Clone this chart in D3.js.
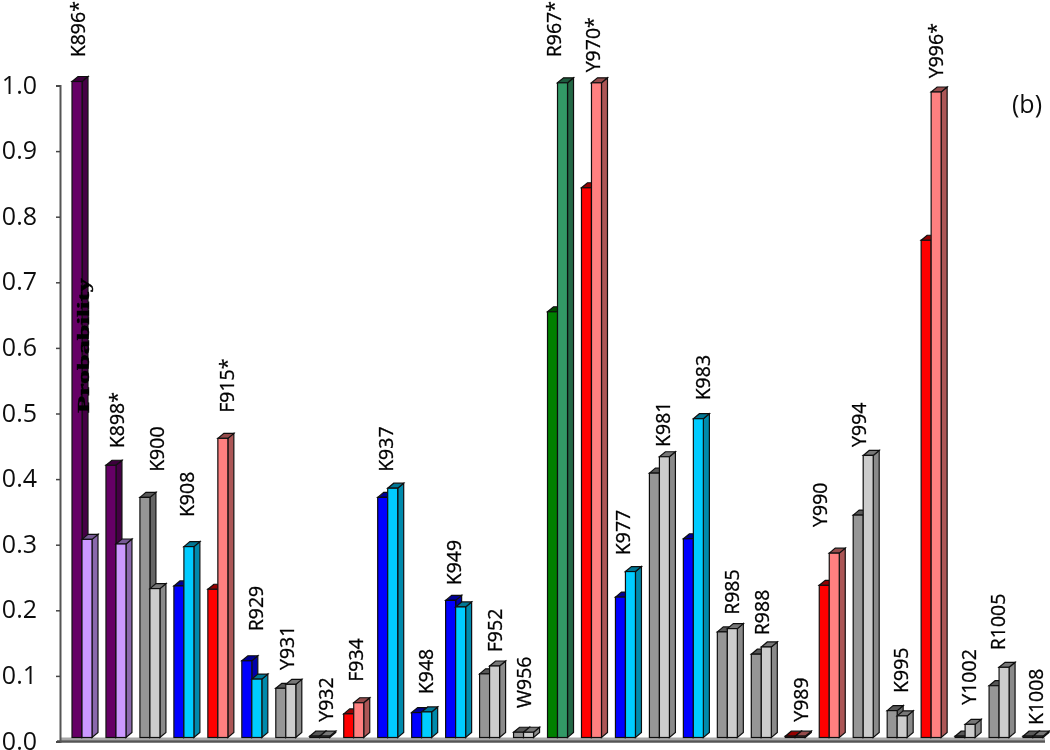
<!DOCTYPE html>
<html>
<head>
<meta charset="utf-8">
<title>Probability</title>
<script src="https://d3js.org/d3.v7.min.js"></script>
<style>
  html, body { margin: 0; padding: 0; background: #fff; }
  svg { display: block; }
  .tick-label { font: 25px "Open Sans", sans-serif; fill: #111; }
  .site-label { font: 19.5px "Open Sans", sans-serif; fill: #000; stroke: #000; stroke-width: 0.3px; }
</style>
</head>
<body>
<div id="chart"></div>
<script>
var sites = ["K896*","K898*","K900","K908","F915*","R929","Y931","Y932","F934","K937",
             "K948","K949","F952","W956","R967*","Y970*","K977","K981","K983","R985",
             "R988","Y989","Y990","Y994","K995","Y996*","Y1002","R1005","K1008"];
var frontValues = [1.0,.415,.366,.231,.226,.117,.075,.002,.036,.366,
                   .038,.209,.097,.008,.649,.838,.214,.403,.303,.161,
                   .127,.002,.232,.339,.041,.758,.002,.079,.002];
var backValues = [.302,.295,.227,.291,.456,.089,.081,.002,.053,.38,
                  .039,.199,.109,.008,.998,.998,.253,.428,.486,.166,
                  .138,.002,.281,.43,.033,.984,.02,.107,.002];
var groups = ["purple","purple","gray","blue","red","blue","gray","gray","red","blue",
              "blue","blue","gray","gray","green","red","blue","gray","blue","gray",
              "gray","red","red","gray","gray","red","gray","gray","gray"];
// where the foot of each label sits, on the value axis
var labelBase = [1.037,.441,.405,.336,.495,.162,.103,.024,.085,.405,
                 .066,.232,.13,.045,1.037,1.014,.278,.443,.514,.187,
                 .156,.024,.321,.443,.068,1.005,.05,.133,.019];
// labels wander sideways in the original, px from the left of the group
var labelNudge = [5.5,11,17,13,19,14,11,16,12,8,14,8,15,10,6,12,8,14,20,15,11,16,1,6,14,15,14,9,13];
var yTicks = [0,.1,.2,.3,.4,.5,.6,.7,.8,.9,1];

var colors = {
  purple: ["#660066","#cc99ff"],
  gray: ["#969696","#cccccc"],
  blue: ["#0000ff","#00ccff"],
  red: ["#ff0000","#ff8080"],
  green: ["#008000","#339966"]
};

var width = 1050, height = 750;
var barW = 10, depthX = 6, depthY = 5;

var svg = d3.select("#chart").append("svg")
  .attr("width", width).attr("height", height);

// the reference is a resampled bitmap, a small blur gets the same soft edges
svg.append("defs").append("filter").attr("id","soft")
  .append("feGaussianBlur").attr("stdDeviation",0.5);
var root = svg.append("g").attr("filter","url(#soft)");

// axis scale, the bars stand a bit up from it because of the 3d floor
var yScale = d3.scaleLinear().domain([0,1]).range([741.5,85.5]);
var barScale = d3.scaleLinear().domain([0,1]).range([737.5,81.5]);
var xScale = d3.scaleBand().domain(sites).range([72,1057]).paddingInner(0).paddingOuter(0).align(0);

// floor
root.append("rect").attr("x",60).attr("y",737.5).attr("width",985).attr("height",3)
  .attr("fill","#a8a8a8");
root.append("line").attr("x1",57).attr("x2",1045).attr("y1",741.5).attr("y2",741.5)
  .attr("stroke","#555").attr("stroke-width",2.4);

// y axis
var yAxis = d3.axisLeft(yScale).tickValues(yTicks).tickSize(4).tickFormat(d3.format(".1f"));
var yAxisGroup = root.append("g").attr("transform","translate(60,0)").call(yAxis);
yAxisGroup.select(".domain").attr("stroke","#555").attr("stroke-width",2);
yAxisGroup.selectAll(".tick line").attr("stroke","#444").attr("stroke-width",1.5);
yAxisGroup.selectAll(".tick text").attr("class","tick-label")
  .attr("x",-23).attr("dy","0.3em");

function bar3d(g, x, value, color) {
  var top = barScale(value), bottom = barScale(0);
  var base = d3.color(color);
  var edge = "#111";
  // side face
  g.append("path")
    .attr("d","M"+(x+barW)+","+top+"l"+depthX+","+(-depthY)+"V"+(bottom-depthY)+"l"+(-depthX)+","+depthY+"Z")
    .attr("fill",base.darker(1.1)).attr("stroke",edge).attr("stroke-width",1.2);
  // top face
  g.append("path")
    .attr("d","M"+x+","+top+"l"+depthX+","+(-depthY)+"h"+barW+"l"+(-depthX)+","+depthY+"Z")
    .attr("fill",base.darker(1.5)).attr("stroke",edge).attr("stroke-width",1.2);
  // front
  g.append("rect").attr("x",x).attr("y",top).attr("width",barW).attr("height",bottom-top)
    .attr("fill",color).attr("stroke",edge).attr("stroke-width",1.2);
}

sites.forEach(function(site,i){
  var g = root.append("g");
  var x = xScale(site);
  bar3d(g, x, frontValues[i], colors[groups[i]][0]);
  bar3d(g, x+barW, backValues[i], colors[groups[i]][1]);
});

root.selectAll("text.site-label").data(sites).enter().append("text")
  .attr("class","site-label")
  .attr("transform",function(d,i){
    return "translate("+(xScale(d)+labelNudge[i]+7)+","+barScale(labelBase[i])+") rotate(-90)";
  })
  .text(function(d){return d;});

root.append("text").text("Probability")
  .attr("transform","translate(89,413) rotate(-90)")
  .attr("font-family","Liberation Serif, serif").attr("font-weight","bold")
  .attr("font-size",17).attr("fill","#000").attr("stroke","#000").attr("stroke-width",0.4)
  .attr("textLength",135).attr("lengthAdjust","spacingAndGlyphs");

root.append("text").text("(b)").attr("x",1012).attr("y",113)
  .attr("font-family","Open Sans, sans-serif").attr("font-size",25).attr("fill","#111");
</script>
</body>
</html>
